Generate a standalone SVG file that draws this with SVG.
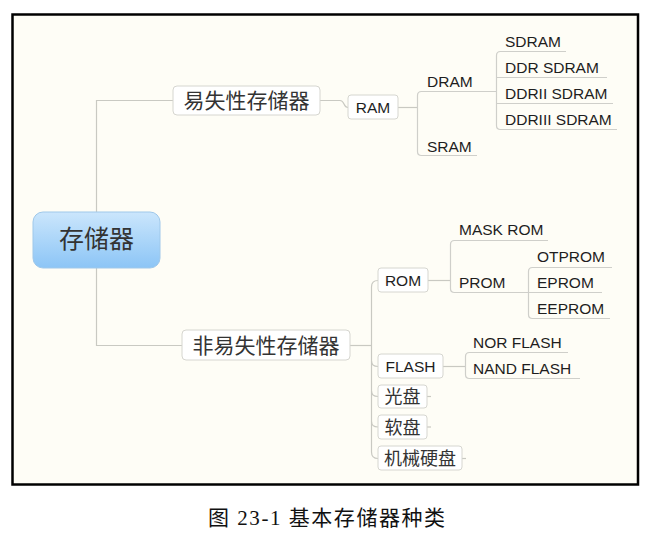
<svg xmlns="http://www.w3.org/2000/svg" width="665" height="536" viewBox="0 0 665 536">
<defs>
<linearGradient id="rootGrad" x1="0" y1="0" x2="0" y2="1">
<stop offset="0" stop-color="#CBE6FC"/>
<stop offset="1" stop-color="#8CC5F6"/>
</linearGradient>
<style>
.conn{fill:none;stroke:#C9C9C2;stroke-width:1.2}
.ul{fill:none;stroke:#CFCFCA;stroke-width:1.2}
.box{fill:#FFFFFF;stroke:#D6D6D0;stroke-width:1}
.en{font-family:"Liberation Sans",Arial,sans-serif;font-size:15.5px;fill:#1E1E1E}
.cn{font-family:"Noto Sans CJK SC",sans-serif;fill:#333333}
</style>
</defs>
<rect x="0" y="0" width="665" height="536" fill="#FFFFFF"/>
<rect x="12.5" y="14.5" width="625.5" height="470" fill="#FEFDF6" stroke="#000000" stroke-width="2.5"/>

<g id="connectors">
<path class="conn" d="M96.5 212 L96.5 100.5 L173 100.5"/>
<path class="conn" d="M96.5 268 L96.5 345.5 L182 345.5"/>
<path class="conn" d="M320 100.5 L340 100.5 C345 100.5 343 107.5 348 107.5"/>
<path class="conn" d="M398 107.5 L417.5 107.5"/>
<path class="ul" d="M496.5 91.5 L421.5 91.5 Q417.5 91.5 417.5 95.5 L417.5 151.5 Q417.5 155.5 421.5 155.5 L477 155.5"/>
<path class="ul" d="M566 51.5 L500.5 51.5 Q496.5 51.5 496.5 55.5 L496.5 125.5 Q496.5 129.5 500.5 129.5 L617 129.5"/>
<path class="ul" d="M496.5 77.5 L607 77.5"/>
<path class="ul" d="M496.5 103.5 L613 103.5"/>
<path class="conn" d="M350 345.5 L371.5 345.5"/>
<path class="conn" d="M378 280.5 Q371.5 280.5 371.5 287 L371.5 452 Q371.5 458.5 378 458.5"/>
<path class="conn" d="M371.5 361 Q371.5 366.5 378 366.5"/>
<path class="conn" d="M371.5 391 Q371.5 396.5 378 396.5"/>
<path class="conn" d="M371.5 421.5 Q371.5 427 378 427"/>
<path class="conn" d="M428 280.5 L450.5 280.5"/>
<path class="ul" d="M548 240.5 L454.5 240.5 Q450.5 240.5 450.5 244.5 L450.5 288.5 Q450.5 292.5 454.5 292.5 L528.5 292.5"/>
<path class="ul" d="M612 267.5 L532.5 267.5 Q528.5 267.5 528.5 271.5 L528.5 314.5 Q528.5 318.5 532.5 318.5 L610 318.5"/>
<path class="ul" d="M528.5 292.5 L602 292.5"/>
<path class="conn" d="M443 366.5 L465.5 366.5"/>
<path class="ul" d="M568 352.5 L469.5 352.5 Q465.5 352.5 465.5 356.5 L465.5 374.5 Q465.5 378.5 469.5 378.5 L580 378.5"/>
<path class="conn" d="M427 396.5 L431 396.5"/>
<path class="conn" d="M427 427 L431 427"/>
<path class="conn" d="M462 458.5 L466 458.5"/>
</g>

<g id="root">
<rect x="33" y="212" width="127" height="56" rx="10" fill="url(#rootGrad)" stroke="#9FC8EA" stroke-width="1"/>
<text class="cn" x="96.5" y="248" font-size="25" text-anchor="middle">存储器</text>
</g>

<g id="volatile">
<rect class="box" x="173" y="86" width="147" height="29" rx="4"/>
<text class="cn" x="246.5" y="108" font-size="21" text-anchor="middle">易失性存储器</text>
</g>
<g id="nonvolatile">
<rect class="box" x="182" y="330" width="168" height="30" rx="4"/>
<text class="cn" x="266" y="352.5" font-size="21" text-anchor="middle">非易失性存储器</text>
</g>

<g id="ram">
<rect class="box" x="348" y="95" width="50" height="24" rx="3"/>
<text class="en" x="373" y="113" text-anchor="middle">RAM</text>
</g>
<g id="dram"><text class="en" x="427" y="87">DRAM</text></g>
<g id="sram"><text class="en" x="427" y="152">SRAM</text></g>
<g id="sdram"><text class="en" x="505" y="47">SDRAM</text></g>
<g id="ddrsdram"><text class="en" x="505" y="73">DDR SDRAM</text></g>
<g id="ddriisdram"><text class="en" x="505" y="99">DDRII SDRAM</text></g>
<g id="ddriiisdram"><text class="en" x="505" y="125">DDRIII SDRAM</text></g>

<g id="rom">
<rect class="box" x="378" y="268" width="50" height="24" rx="3"/>
<text class="en" x="403" y="286" text-anchor="middle">ROM</text>
</g>
<g id="maskrom"><text class="en" x="459" y="235">MASK ROM</text></g>
<g id="prom"><text class="en" x="459" y="288">PROM</text></g>
<g id="otprom"><text class="en" x="537" y="262">OTPROM</text></g>
<g id="eprom"><text class="en" x="537" y="288">EPROM</text></g>
<g id="eeprom"><text class="en" x="537" y="314">EEPROM</text></g>

<g id="flash">
<rect class="box" x="378" y="354" width="65" height="24" rx="3"/>
<text class="en" x="410.5" y="371.5" text-anchor="middle">FLASH</text>
</g>
<g id="norflash"><text class="en" x="473" y="348">NOR FLASH</text></g>
<g id="nandflash"><text class="en" x="473" y="374">NAND FLASH</text></g>

<g id="optical">
<rect class="box" x="378" y="385" width="49" height="23" rx="3"/>
<text class="cn" x="402.5" y="403" font-size="18" text-anchor="middle">光盘</text>
</g>
<g id="floppy">
<rect class="box" x="378" y="415" width="49" height="24" rx="3"/>
<text class="cn" x="402.5" y="433.5" font-size="18" text-anchor="middle">软盘</text>
</g>
<g id="hdd">
<rect class="box" x="378" y="446" width="84" height="24" rx="3"/>
<text class="cn" x="420" y="464.5" font-size="18" text-anchor="middle">机械硬盘</text>
</g>

<text x="208" y="525" font-family="'Liberation Serif','Noto Sans CJK SC',serif" font-size="21" fill="#111111" textLength="237" lengthAdjust="spacing">图 23-1 基本存储器种类</text>
</svg>
